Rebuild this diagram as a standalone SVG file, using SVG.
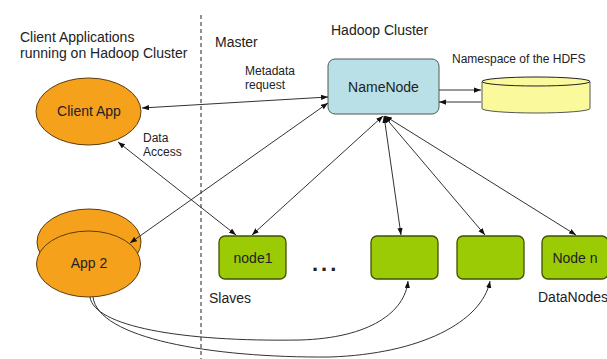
<svg xmlns="http://www.w3.org/2000/svg" width="607" height="359" viewBox="0 0 607 359">
<defs>
<style>
text{font-family:"Liberation Sans",Arial,sans-serif;fill:#222}
.t14{font-size:14px}
.t12{font-size:12px}
.app{fill:#f6a11c;stroke:#5a3c10;stroke-width:1}
.dn{fill:#9bcb05;stroke:#3f5200;stroke-width:1.3}
.ln{fill:none;stroke:#333;stroke-width:1}
</style>
<marker id="ah" viewBox="0 0 8 6" refX="8" refY="3" markerWidth="7" markerHeight="5.5" markerUnits="userSpaceOnUse" orient="auto-start-reverse">
<path d="M0,0 L8,3 L0,6 z" fill="#111"/>
</marker>
</defs>
<rect width="607" height="359" fill="#fff"/>
<line x1="201" y1="15" x2="201" y2="359" stroke="#222" stroke-width="1" stroke-dasharray="4 3"/>
<text class="t14" x="20" y="42">Client Applications</text>
<text class="t14" x="20" y="58">running on Hadoop Cluster</text>
<text class="t14" x="215" y="47">Master</text>
<text class="t14" x="331" y="35">Hadoop Cluster</text>
<text class="t12" x="452" y="63" font-size="12.3">Namespace of the HDFS</text>
<text class="t12" x="245" y="75">Metadata</text>
<text class="t12" x="245" y="89">request</text>
<text class="t12" x="143" y="142">Data</text>
<text class="t12" x="143" y="156">Access</text>
<text class="t14" x="209" y="303">Slaves</text>
<text class="t14" x="538" y="302">DataNodes</text>
<text x="312" y="271" font-size="22" font-weight="bold" letter-spacing="3" fill="#222">...</text>

<g id="namenode">
<rect x="328" y="59" width="111" height="55" rx="7" fill="#b9e0e6" stroke="#555" stroke-width="1"/>
<text class="t14" x="383.5" y="92" text-anchor="middle">NameNode</text>
</g>

<g id="hdfs-namespace">
<path d="M482 81.5 L482 108.5 A54 4.5 0 0 0 590 108.5 L590 81.5 Z" fill="#fafa9c" stroke="#555" stroke-width="1"/>
<ellipse cx="536" cy="81.5" rx="54" ry="4.5" fill="#fafa9c" stroke="#222" stroke-width="1"/>
</g>

<g id="client-app">
<ellipse class="app" cx="88.5" cy="111.5" rx="52.5" ry="33.5"/>
<text class="t14" x="89" y="116" text-anchor="middle">Client App</text>
</g>

<g id="app2">
<ellipse class="app" cx="89" cy="242" rx="52" ry="33"/>
<ellipse class="app" cx="88.5" cy="264" rx="52" ry="33"/>
<text class="t14" x="89" y="268" text-anchor="middle">App 2</text>
</g>

<g id="node1">
<rect class="dn" x="219" y="236" width="67" height="43" rx="6"/>
<text class="t14" x="253" y="263" text-anchor="middle">node1</text>
</g>
<g id="node2">
<rect class="dn" x="371" y="236" width="67" height="43" rx="6"/>
</g>
<g id="node3">
<rect class="dn" x="457" y="236" width="67" height="43" rx="6"/>
</g>
<g id="node-n">
<rect class="dn" x="542" y="236" width="66" height="43" rx="6"/>
<text class="t14" x="575" y="263" text-anchor="middle">Node n</text>
</g>

<g id="connectors">
<line class="ln" x1="142" y1="108" x2="328" y2="97" marker-start="url(#ah)" marker-end="url(#ah)"/>
<line class="ln" x1="130" y1="243" x2="328" y2="103" marker-start="url(#ah)" marker-end="url(#ah)"/>
<line class="ln" x1="118" y1="142" x2="236" y2="235" marker-start="url(#ah)" marker-end="url(#ah)"/>
<line class="ln" x1="383" y1="116" x2="252" y2="235" marker-start="url(#ah)" marker-end="url(#ah)"/>
<line class="ln" x1="384" y1="116" x2="401" y2="235" marker-start="url(#ah)" marker-end="url(#ah)"/>
<line class="ln" x1="384" y1="116" x2="485" y2="235" marker-start="url(#ah)" marker-end="url(#ah)"/>
<line class="ln" x1="385" y1="116" x2="576" y2="235" marker-start="url(#ah)" marker-end="url(#ah)"/>
<line class="ln" x1="439" y1="90" x2="481" y2="90" marker-end="url(#ah)"/>
<line class="ln" x1="481" y1="102" x2="439" y2="102" marker-end="url(#ah)"/>
<path class="ln" d="M90 297 C94 326 180 342 300 340 C370 338 405 312 408 281" marker-end="url(#ah)"/>
<path class="ln" d="M93 297 C98 338 210 358 330 357 C420 354 482 322 490 281" marker-end="url(#ah)"/>
</g>
</svg>
